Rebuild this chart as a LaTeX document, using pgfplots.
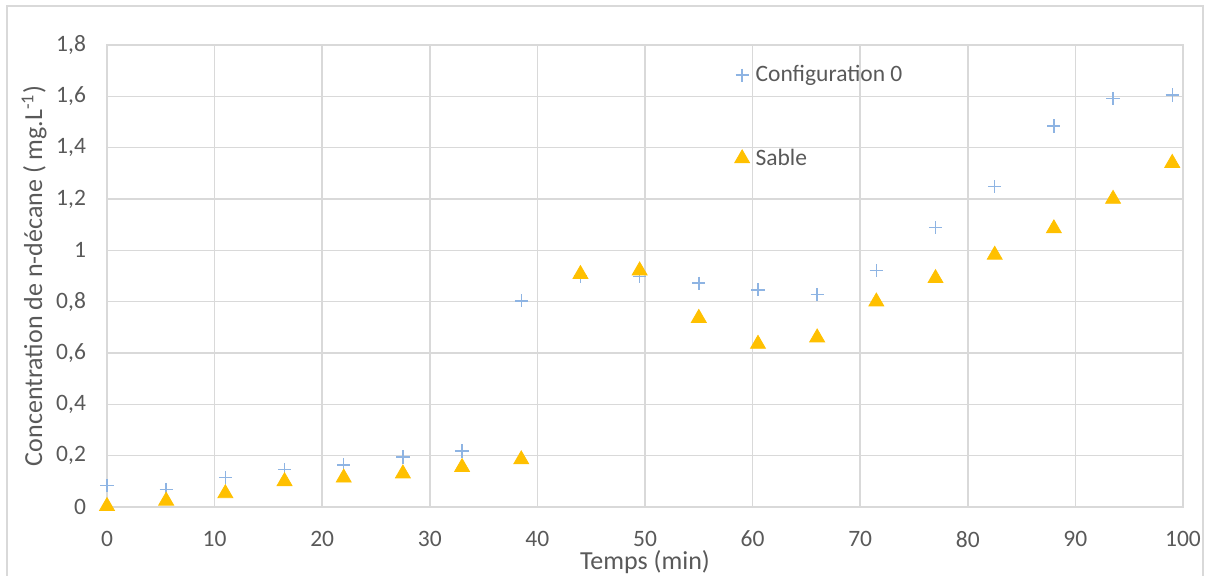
\documentclass[border=0pt]{standalone}
\usepackage{fontspec}
\setmainfont{Carlito}
\usepackage{pgfplots}
\pgfplotsset{compat=1.18}

\definecolor{gridc}{HTML}{D9D9D9}
\definecolor{txt}{HTML}{595959}
\definecolor{bluep}{HTML}{8EB4E3}
\definecolor{orng}{HTML}{FFC000}

\begin{document}
\begin{tikzpicture}
% page = 1211 x 576 px at 0.5pt per px
\path[use as bounding box] (0pt,0pt) rectangle (605.5pt,288pt);
\draw[gridc, line width=0.6pt] (3.5pt,-2pt) -- (3.5pt,285pt) -- (601.5pt,285pt) -- (601.5pt,-2pt);

\begin{axis}[
    at={(53.5pt,34.5pt)}, anchor=south west,
    scale only axis,
    width=538pt, height=231pt,
    xmin=0, xmax=100, ymin=0, ymax=1.8,
    xtick={0,10,...,100},
    ytick={0,0.2,0.4,0.6,0.8,1,1.2,1.4,1.6,1.8},
    /pgf/number format/use comma,
    /pgf/number format/assume math mode=true,
    grid=major,
    major grid style={gridc, line width=0.75pt},
    axis line style={gridc, line width=0.75pt},
    major tick length=0pt,
    tick label style={font=\fontsize{11.75}{14}\selectfont, text=txt},
    xticklabel style={yshift=-8.5pt},
    yticklabel style={xshift=-7pt},
    label style={font=\fontsize{13}{15}\selectfont, text=txt},
    xlabel={Temps (min)},
    ylabel={Concentration de n-décane ( mg.L\textsuperscript{-1})},
    xlabel style={yshift=5.5pt},
    ylabel style={yshift=-2pt},
    clip=false,
    legend style={at={(0.583,0.965)}, anchor=north west, draw=none, fill=none,
        font=\fontsize{11.75}{14}\selectfont, text=txt, row sep=28pt,
        inner sep=0pt, column sep=1pt},
    legend cell align=left,
    legend image code/.code={\draw[#1] plot coordinates {(0pt,0pt)};},
]

% Configuration 0
\addplot[only marks, mark=+, mark size=3.3pt, color=bluep, line width=0.7pt] coordinates {
(0,0.083) (5.5,0.068) (11,0.115) (16.5,0.145) (22,0.164) (27.5,0.195) (33,0.218)
(38.5,0.803) (44,0.900) (49.5,0.897) (55,0.872) (60.5,0.846) (66,0.827)
(71.5,0.921) (77,1.089) (82.5,1.248) (88,1.484) (93.5,1.592) (99,1.605)
};
\addlegendentry{Configuration 0}

% Sable
\addplot[only marks, mark=triangle*, mark size=4.3pt, color=orng, fill=orng] coordinates {
(0,0.003) (5.5,0.024) (11,0.053) (16.5,0.100) (22,0.114) (27.5,0.130) (33,0.155)
(38.5,0.185) (44,0.907) (49.5,0.921) (55,0.736) (60.5,0.635) (66,0.660)
(71.5,0.800) (77,0.891) (82.5,0.982) (88,1.085) (93.5,1.200) (99,1.340)
};
\addlegendentry{Sable}

\end{axis}
\end{tikzpicture}
\end{document}
